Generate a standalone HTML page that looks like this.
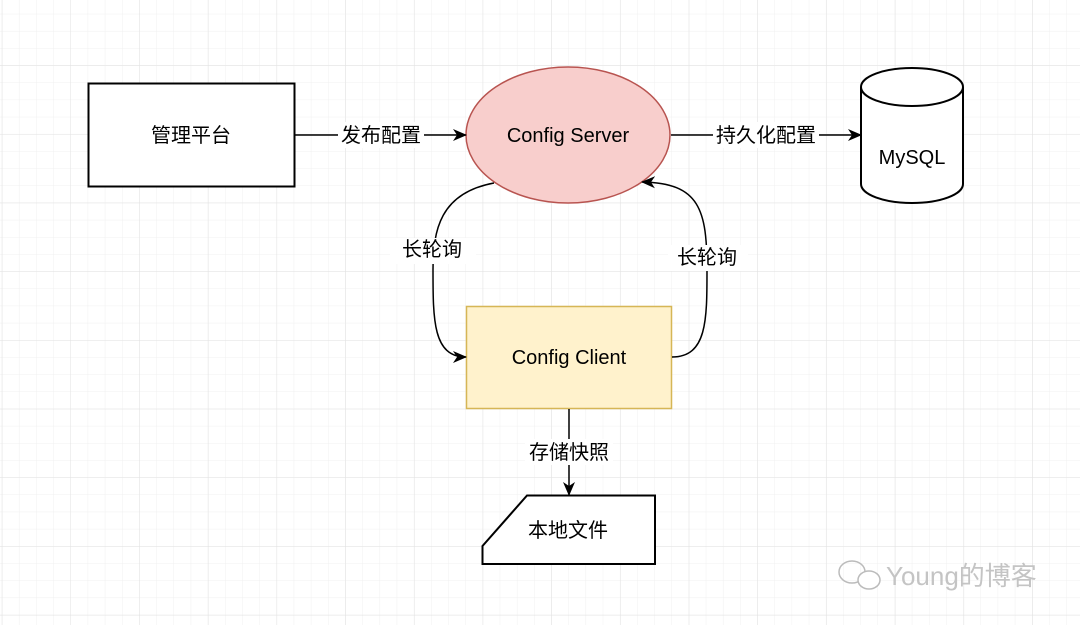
<!DOCTYPE html>
<html><head><meta charset="utf-8"><style>
html,body{margin:0;padding:0;background:#fff;}
svg{display:block;}
text{font-family:"Liberation Sans","Noto Sans CJK SC",sans-serif;font-size:20px;fill:#000;}
</style></head><body>
<svg width="1080" height="625" viewBox="0 0 1080 625" xmlns="http://www.w3.org/2000/svg">
<defs>
<pattern id="minor" x="1.8" y="-3.4" width="17.17" height="17.17" patternUnits="userSpaceOnUse">
<path d="M0 0H17.17M0 0V17.17" stroke="#f0f0f0" stroke-width="1" fill="none"/>
</pattern>
<pattern id="major" x="1.8" y="-3.4" width="68.7" height="68.7" patternUnits="userSpaceOnUse">
<path d="M0 0H68.7M0 0V68.7" stroke="#e2e2e2" stroke-width="1" fill="none"/>
</pattern>
<marker id="ar" markerWidth="16" markerHeight="16" refX="13" refY="7" orient="auto" markerUnits="userSpaceOnUse">
<path d="M0 1L14 7L0 13L4 7Z" fill="#000"/>
</marker>
</defs>
<rect width="1080" height="625" fill="url(#minor)"/>
<rect width="1080" height="625" fill="url(#major)"/>

<rect x="88.5" y="83.5" width="206" height="103" fill="#fff" stroke="#000" stroke-width="2"/>
<text x="191" y="142" text-anchor="middle">管理平台</text>

<ellipse cx="568" cy="135" rx="102" ry="68" fill="#f8cecc" stroke="#b85450" stroke-width="1.5"/>
<text x="568" y="142" text-anchor="middle">Config Server</text>

<path d="M861 87 A51 19 0 0 1 963 87 V184 A51 19 0 0 1 861 184 Z" fill="#fff" stroke="#000" stroke-width="2"/>
<path d="M861 87 A51 19 0 0 0 963 87" fill="none" stroke="#000" stroke-width="2"/>
<text x="912" y="164" text-anchor="middle">MySQL</text>

<rect x="466.5" y="306.5" width="205" height="102" fill="#fff2cc" stroke="#d6b656" stroke-width="1.5"/>
<text x="569" y="364" text-anchor="middle">Config Client</text>

<path d="M527 495.5 H655 V564 H482.5 V546 Z" fill="#fff" stroke="#000" stroke-width="2"/>
<text x="568" y="537" text-anchor="middle">本地文件</text>

<line x1="295" y1="135" x2="466" y2="135" stroke="#000" stroke-width="1.5" marker-end="url(#ar)"/>
<rect x="338" y="122" width="86" height="26" fill="#fff"/>
<text x="381" y="142" text-anchor="middle">发布配置</text>

<line x1="671" y1="135" x2="861" y2="135" stroke="#000" stroke-width="1.5" marker-end="url(#ar)"/>
<rect x="713" y="122" width="106" height="26" fill="#fff"/>
<text x="766" y="142" text-anchor="middle">持久化配置</text>

<path d="M494 183 C440 193 433 230 433 270 C433 320 433 357 466 357" fill="none" stroke="#000" stroke-width="1.5" marker-end="url(#ar)"/>
<rect x="390" y="238" width="86" height="26" fill="#fff"/>
<text x="432" y="256" text-anchor="middle">长轮询</text>

<path d="M672 357 C707 357 707 320 707 270 C707 210 700 183 642 182" fill="none" stroke="#000" stroke-width="1.5" marker-end="url(#ar)"/>
<rect x="668" y="245" width="80" height="26" fill="#fff"/>
<text x="707" y="264" text-anchor="middle">长轮询</text>

<line x1="569" y1="409" x2="569" y2="495" stroke="#000" stroke-width="1.5" marker-end="url(#ar)"/>
<rect x="525" y="439" width="88" height="26" fill="#fff"/>
<text x="569" y="459" text-anchor="middle">存储快照</text>

<g fill="none" stroke="#bbb" stroke-width="1.5">
<ellipse cx="852" cy="572" rx="13" ry="11"/>
<ellipse cx="869" cy="580" rx="11" ry="9" fill="#fff"/>
</g>
<text x="886" y="585" style="font-size:26px;fill:#c4c4c4">Young的博客</text>
</svg>
</body></html>
